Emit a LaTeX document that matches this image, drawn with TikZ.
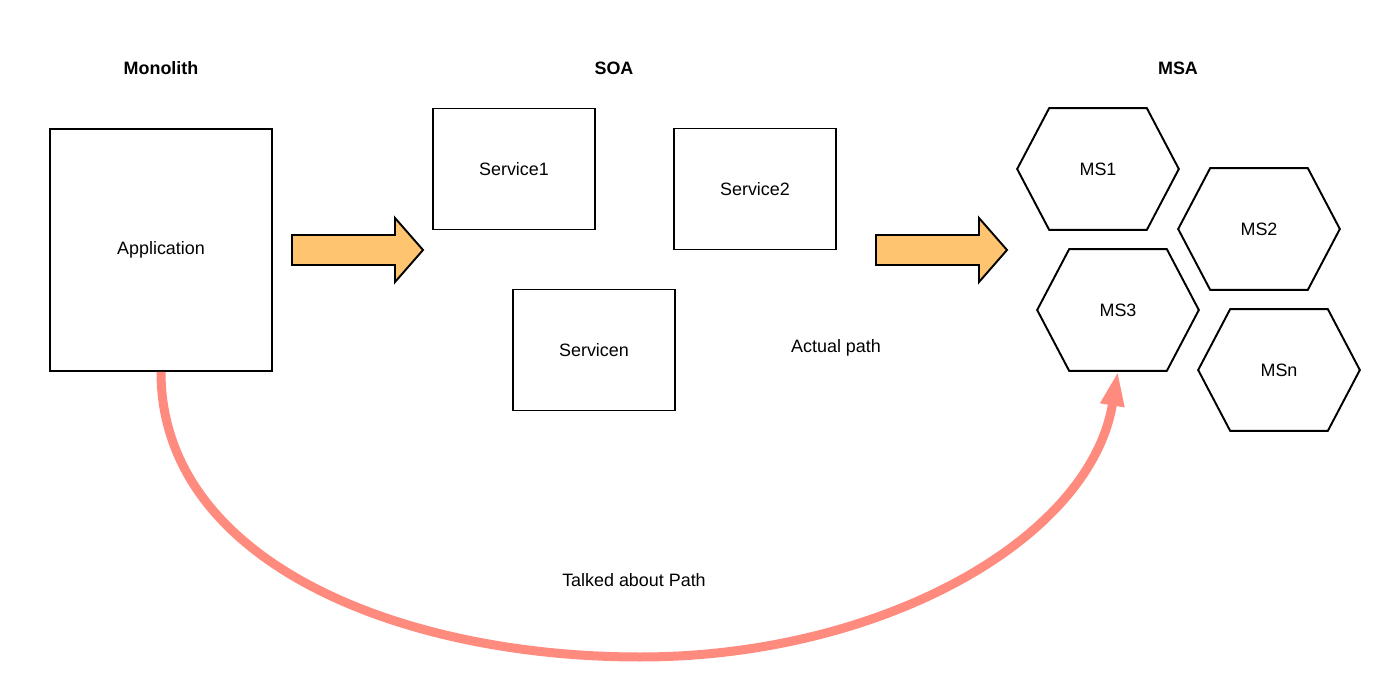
\documentclass[tikz,border=0pt]{standalone}
\usepackage{fontspec}
\setmainfont{Liberation Sans}
\usetikzlibrary{arrows.meta,positioning,calc}
\definecolor{arrowfill}{RGB}{255,196,112}
\definecolor{pathred}{RGB}{255,138,126}

\begin{document}
\begin{tikzpicture}[x=0.02cm,y=-0.02cm,
  every node/.style={font=\fontsize{10.2}{12}\selectfont},
  title/.style={font=\fontsize{10.2}{12}\selectfont\bfseries},
  box/.style={draw,line width=1.1pt,minimum width=3.24cm,minimum height=2.42cm},
  hexa/.style={minimum width=3.22cm,minimum height=2.42cm,inner sep=0pt},
  blockarrow/.style={draw,line width=1.1pt,fill=arrowfill,line join=miter}]
\useasboundingbox (0,0) rectangle (1400,699);
% titles
\node[title] (mono) at (161,68) {Monolith};
\node[title] (soa) at (614,68) {SOA};
\node[title] (msa) at (1178,68) {MSA};
% monolith and services
\node[box,minimum width=4.44cm,minimum height=4.84cm] (app) at (161,250) {Application};
\node[box] (s1) at (514,169) {Service1};
\node[box] (s2) at (755,189) {Service2};
\node[box] (sn) at (594,350) {Servicen};
\node (actual) at (836,348) {Actual path};
% microservices
\node[hexa] (ms1) at (1098,169) {MS1};
\node[hexa] (ms2) at (1259,229) {MS2};
\node[hexa] (ms3) at (1118,310) {MS3};
\node[hexa] (msn) at (1279,370) {MSn};
\foreach \h in {ms1,ms2,ms3,msn}
  \draw[line width=1.1pt] (\h.west) -- ([xshift=0.64cm]\h.north west) -- ([xshift=-0.64cm]\h.north east)
    -- (\h.east) -- ([xshift=-0.64cm]\h.south east) -- ([xshift=0.64cm]\h.south west) -- cycle;
% block arrows
\foreach \x in {292,876}
  \draw[blockarrow,shift={(\x,0)}] (0,235) -- (103,235) -- (103,218) -- (131,250) -- (103,282) -- (103,265) -- (0,265) -- cycle;
% the path that was talked about
\draw[pathred,line width=0.18cm,-{Triangle[length=0.7cm,width=0.44cm]}] (app.south)
  .. controls +(0,190) and (400,657) .. (640,657)
  .. controls (880,657) and (1090,540) .. (ms3.south);
\node (talked) at (634,580) {Talked about Path};
\end{tikzpicture}
\end{document}
